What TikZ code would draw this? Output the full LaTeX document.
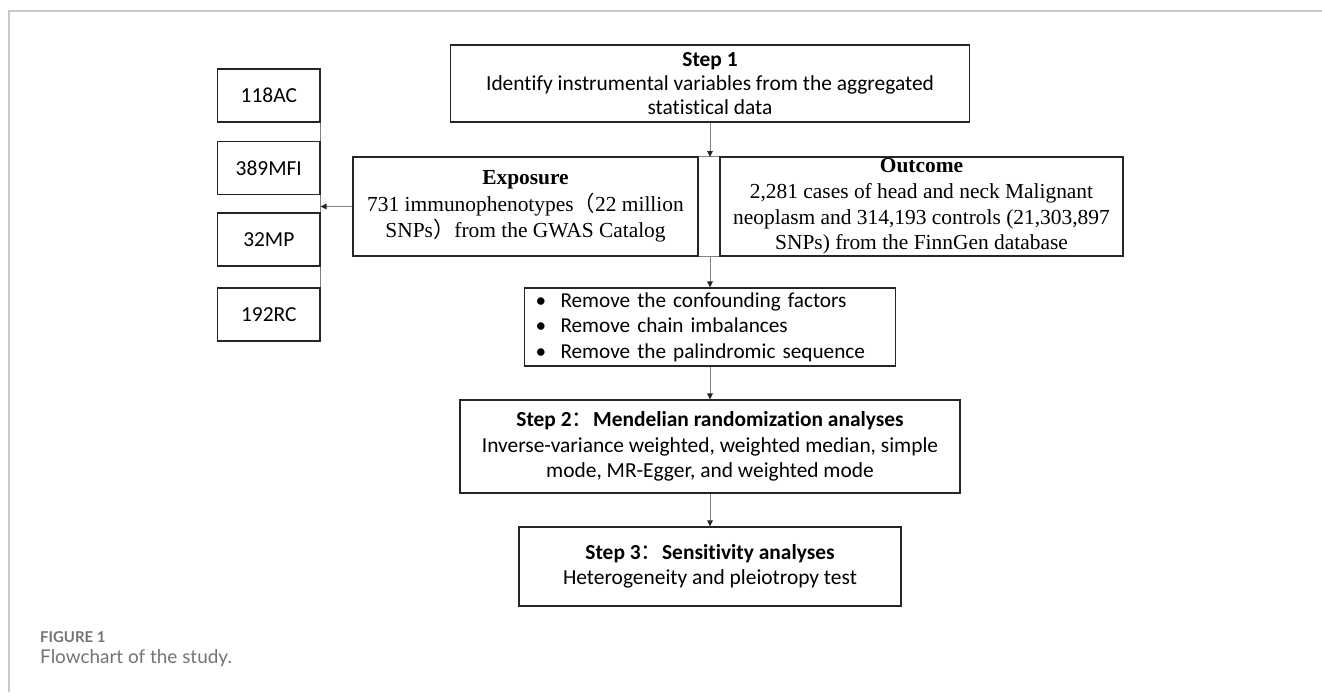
\documentclass[tikz,border=0pt]{standalone}
\usepackage{fontspec}
\setmainfont{Carlito}[Ligatures=NoCommon]
\newfontfamily\tnr{Liberation Serif}
\newfontfamily\cjk{Noto Sans CJK SC}
\newfontfamily\capfont{Lato}
\usetikzlibrary{arrows.meta}
\begin{document}
\begin{tikzpicture}[x=1bp,y=-1bp,
  box/.style={draw=black!85,line width=1.1bp,inner sep=0pt,align=center},
  sbox/.style={box,minimum width=102.4bp,minimum height=53bp,font=\fontsize{21.5}{24}\selectfont},
  conn/.style={draw=black!50,line width=1bp},
  arr/.style={conn,-{Triangle[length=6bp,width=5.5bp,color=black!85]}},
  frameline/.style={draw=black!22,line width=1.2bp},
  captext/.style={anchor=base west,inner sep=0pt,text=black!55}]
\useasboundingbox (0,0) rectangle (1322,692);
\draw[frameline] (9,692) -- (9,11) -- (1322,11);

\node[box,minimum width=519bp,minimum height=77bp,font=\fontsize{21.5}{24}\selectfont] (s1) at (710,83.5)
  {\textbf{Step 1}\\Identify instrumental variables from the aggregated\\statistical data};

\node[box,minimum width=345bp,minimum height=99bp,font=\tnr\fontsize{21.5}{26.5}\selectfont] (exp) at (525.5,206.5)
  {\textbf{Exposure}\\731 immunophenotypes{\cjk\mdseries （}22 million\\SNPs{\cjk\mdseries ）}from the GWAS Catalog};

\node[box,minimum width=403bp,minimum height=99bp,font=\tnr\fontsize{21.5}{25.8}\selectfont] (out) at (921.5,206.5)
  {\textbf{Outcome}\\2,281 cases of head and neck Malignant\\neoplasm and 314,193 controls (21,303,897\\SNPs) from the FinnGen database};

\node[box,inner xsep=11bp,text width=349bp,minimum height=78bp,align=left,font=\fontsize{21.3}{25.5}\selectfont] (rm) at (710,327)
  {\makebox[25bp][l]{•}Remove the confounding factors\\
   \makebox[25bp][l]{•}Remove chain imbalances\\
   \makebox[25bp][l]{•}Remove the palindromic sequence};

\node[box,minimum width=500bp,minimum height=93bp,font=\fontsize{21.5}{25.5}\selectfont] (s2) at (710,446.5)
  {\textbf{Step 2{\cjk\mdseries ：}Mendelian randomization analyses}\\Inverse-variance weighted, weighted median, simple\\mode, MR-Egger, and weighted mode};

\node[box,minimum width=382bp,minimum height=79bp,font=\fontsize{21.5}{24.5}\selectfont] (s3) at (710,566.5)
  {\textbf{Step 3{\cjk\mdseries ：}Sensitivity analyses}\\Heterogeneity and pleiotropy test};

\node[sbox] (b1) at (268.8,95.5) {118AC};
\node[sbox] (b2) at (268.8,168) {389MFI};
\node[sbox] (b3) at (268.8,239.5) {32MP};
\node[sbox] (b4) at (268.8,314.5) {192RC};

\coordinate (gt) at (710,157);
\coordinate (gb) at (710,256);
\coordinate (hit) at (b1.east |- exp.west);

\draw[conn] (exp.north east) -- (out.north west);
\draw[conn] (exp.south east) -- (out.south west);
\draw[arr] (s1.south) -- (gt);
\draw[arr] (gb) -- (rm.north);
\draw[arr] (rm.south) -- (s2.north);
\draw[arr] (s2.south) -- (s3.north);
\draw[conn] (b1.south east) -- (b2.north east);
\draw[conn] (b2.south east) -- (b3.north east);
\draw[conn] (b3.south east) -- (b4.north east);
\draw[arr] (exp.west) -- (hit);

\node[captext,font=\capfont\bfseries\fontsize{15}{18}\selectfont] (fig) at (40,642) {FIGURE 1};
\node[captext,font=\capfont\fontsize{19}{22}\selectfont] (cap) at (40,663) {Flowchart of the study.};
\end{tikzpicture}
\end{document}
